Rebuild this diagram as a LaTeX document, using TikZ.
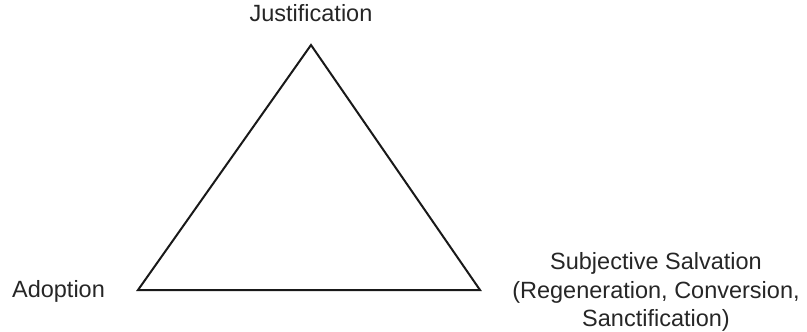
\documentclass[tikz,border=0pt]{standalone}
\usepackage{fontspec}
\setmainfont{Liberation Sans}
\usepackage{tikz}
\usetikzlibrary{positioning}
\tikzset{corner/.style={inner sep=0pt,font=\fontsize{23.5}{28.5}\selectfont,text=black!85}}

\begin{document}
\begin{tikzpicture}[x=1pt,y=-1pt]
\useasboundingbox (0,0) rectangle (807,332);
\coordinate (top) at (311,45);\coordinate (left) at (138,290);\coordinate (right) at (480,290);
\draw[line width=2pt,line join=miter,black!90] (top)--(left)--(right)--cycle;
\node[corner,anchor=base] (just) at (311,21) {Justification};
\node[corner,anchor=base] (adopt) at (58.5,297) {Adoption};
\node[corner,align=center] (subj) at (656,292) {Subjective Salvation\\(Regeneration, Conversion,\\Sanctification)};
\end{tikzpicture}
\end{document}
